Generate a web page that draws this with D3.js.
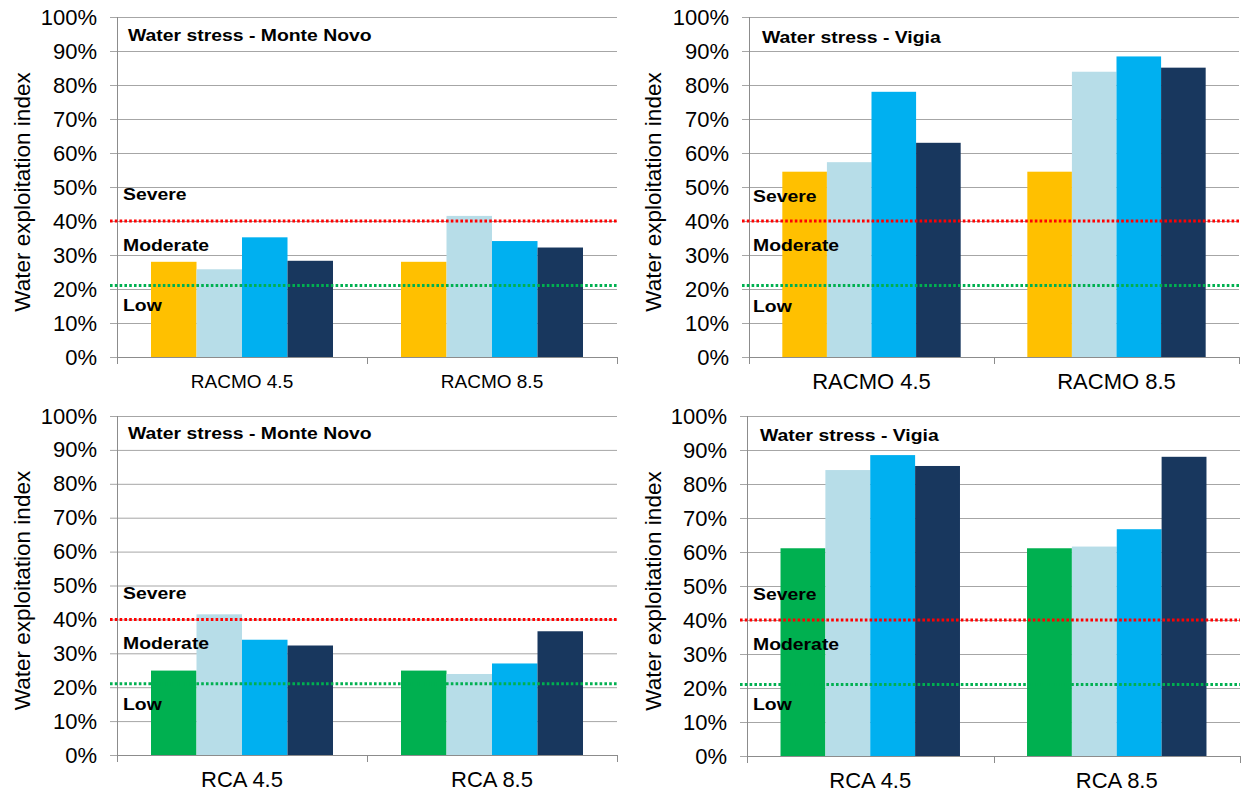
<!DOCTYPE html>
<html>
<head>
<meta charset="utf-8">
<script src="https://cdn.jsdelivr.net/npm/d3@7"></script>
<style>
  html, body { margin: 0; padding: 0; background: #fff; }
  svg { display: block; font-family: "Liberation Sans", Arial, sans-serif; }
</style>
</head>
<body>
<svg id="chart" width="1251" height="796"></svg>
<script>
// Water exploitation index per scenario, four bars per model run
const racmoCategories = ["RACMO 4.5", "RACMO 8.5"];
const rcaCategories = ["RCA 4.5", "RCA 8.5"];
const seriesKeys = ["s1", "s2", "s3", "s4"];

const monteNovoRacmo = [[0.280, 0.258, 0.352, 0.283], [0.280, 0.415, 0.341, 0.322]];
const vigiaRacmo     = [[0.545, 0.573, 0.780, 0.630], [0.545, 0.839, 0.884, 0.851]];
const monteNovoRca   = [[0.249, 0.415, 0.340, 0.323], [0.249, 0.239, 0.270, 0.365]];
const vigiaRca       = [[0.611, 0.841, 0.885, 0.853], [0.611, 0.616, 0.667, 0.880]];

const yTicks = [0, 0.1, 0.2, 0.3, 0.4, 0.5, 0.6, 0.7, 0.8, 0.9, 1.0];
const severeLimit = 0.40;
const lowLimit = 0.21;
const stressLabels = ["Severe", "Moderate", "Low"];

const racmoColors = ["#FFC000", "#B7DDE8", "#00B0F0", "#18375E"];
const rcaColors   = ["#00B050", "#B7DDE8", "#00B0F0", "#18375E"];

const svg = d3.select("#chart");

function panel(opts) {
  const { left, right, top, bottom, cats, values, colors, title, catFont, titleY, labelY } = opts;
  const g = svg.append("g");
  const y = d3.scaleLinear().domain([0, 1]).range([bottom, top]);
  const x0 = d3.scaleBand().domain(cats).range([left, right]).padding(0);
  const bw = x0.bandwidth();
  const x1 = d3.scaleBand().domain(seriesKeys).range([bw * 0.136, bw * 0.864]).padding(0);

  // horizontal gridlines with outside tick marks
  const yAxis = d3.axisLeft(y).tickValues(yTicks).tickSize(-(right - left)).tickFormat(d3.format(".0%")).tickPadding(20);
  const ya = g.append("g").attr("transform", `translate(${left},0)`).call(yAxis);
  ya.select(".domain").remove();
  ya.selectAll(".tick line").attr("stroke", "#A6A6A6").attr("stroke-width", 1).attr("x1", -7);
  ya.selectAll(".tick text").attr("fill", "#000").style("font-size", "22px").attr("x", -20);

  // bars
  cats.forEach((c, ci) => {
    g.append("g").attr("transform", `translate(${x0(c)},0)`)
      .selectAll("rect").data(values[ci]).join("rect")
      .attr("x", (d, i) => x1(seriesKeys[i]))
      .attr("width", x1.bandwidth())
      .attr("y", d => y(d))
      .attr("height", d => y(0) - y(d))
      .attr("fill", (d, i) => colors[i]);
  });

  // value axis line
  g.append("line").attr("x1", left + 0.5).attr("x2", left + 0.5).attr("y1", top).attr("y2", bottom)
    .attr("stroke", "#8C8C8C");

  // category axis
  const xAxis = d3.axisBottom(x0).tickSize(0).tickPadding(0);
  const xa = g.append("g").attr("transform", `translate(0,${bottom})`).call(xAxis);
  xa.select(".domain").attr("stroke", "#8C8C8C");
  xa.selectAll(".tick text").attr("fill", "#000").style("font-size", catFont + "px").attr("y", 0)
    .attr("dy", 0).attr("transform", `translate(0,${catFont * 0.36 + 24})`);
  const edges = [left, x0(cats[1]), right];
  g.selectAll(".ctick").data(edges).join("line").attr("class", "ctick")
    .attr("x1", d => Math.round(d) + 0.5).attr("x2", d => Math.round(d) + 0.5)
    .attr("y1", bottom).attr("y2", bottom + 7).attr("stroke", "#8C8C8C");

  // threshold lines
  [[severeLimit, "#FF0000"], [lowLimit, "#00B050"]].forEach(([v, col]) => {
    g.append("line").attr("x1", left - 7).attr("x2", right)
      .attr("y1", y(v)).attr("y2", y(v))
      .attr("stroke", col).attr("stroke-width", 3).attr("stroke-dasharray", "2.6,2.2");
  });

  // bold annotations
  const bold = (txt, tx, ty) => g.append("text").text(txt)
    .attr("transform", `translate(${tx},${ty}) scale(1.14,1)`)
    .attr("fill", "#000").style("font-weight", "bold").style("font-size", "17px");
  bold(title, opts.titleX, titleY);
  stressLabels.forEach((t, i) => bold(t, opts.labelX, y(labelY[i])));

  // axis title
  g.append("text").text("Water exploitation index")
    .attr("transform", `translate(${opts.yTitleX},${(top + bottom) / 2 + 5}) rotate(-90)`)
    .attr("text-anchor", "middle").attr("dy", "0.35em")
    .attr("fill", "#000").style("font-size", "22.5px");
}

panel({ left: 117, right: 617, top: 17, bottom: 357, cats: racmoCategories, values: monteNovoRacmo,
  colors: racmoColors, title: "Water stress - Monte Novo", catFont: 19, titleX: 128, titleY: 41,
  labelX: 123, labelY: [0.462, 0.312, 0.135], yTitleX: 22 });
panel({ left: 749, right: 1239, top: 17, bottom: 357, cats: racmoCategories, values: vigiaRacmo,
  colors: racmoColors, title: "Water stress - Vigia", catFont: 22, titleX: 762, titleY: 43,
  labelX: 753, labelY: [0.455, 0.312, 0.132], yTitleX: 653 });
panel({ left: 117, right: 617, top: 416, bottom: 755, cats: rcaCategories, values: monteNovoRca,
  colors: rcaColors, title: "Water stress - Monte Novo", catFont: 22, titleX: 128, titleY: 439,
  labelX: 123, labelY: [0.460, 0.313, 0.133], yTitleX: 22 });
panel({ left: 747, right: 1240, top: 416, bottom: 756, cats: rcaCategories, values: vigiaRca,
  colors: rcaColors, title: "Water stress - Vigia", catFont: 22, titleX: 760, titleY: 441,
  labelX: 753, labelY: [0.459, 0.312, 0.135], yTitleX: 653 });
</script>
</body>
</html>
